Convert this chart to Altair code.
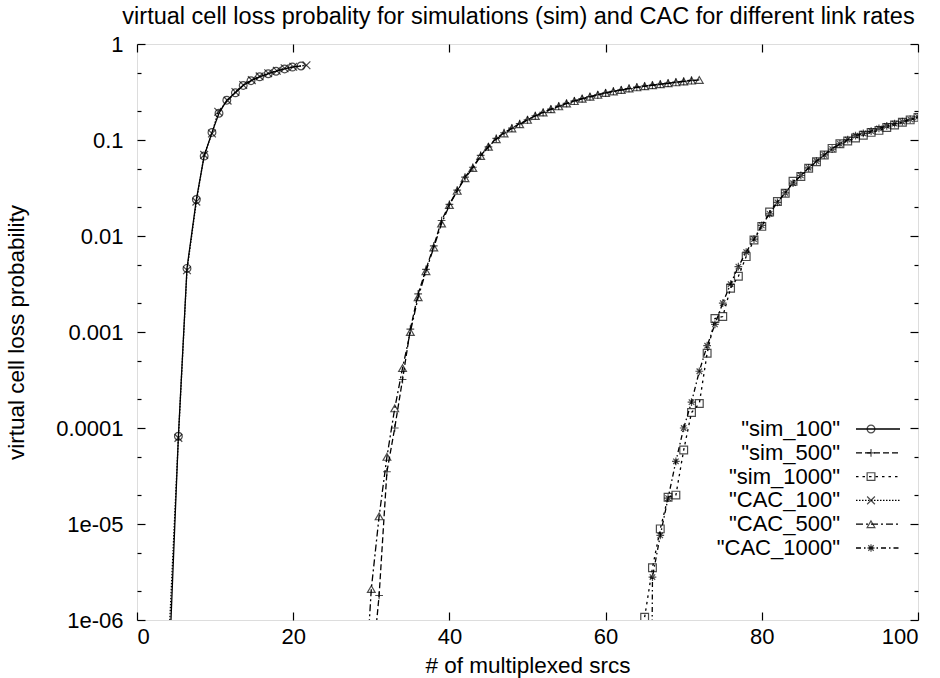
import altair as alt
import pandas as pd

FONT = "Liberation Sans"
TITLE = "virtual cell loss probality for simulations (sim) and CAC for different link rates"
X_TITLE = "# of multiplexed srcs"
Y_TITLE = "virtual cell loss probability"

series_labels = ['"sim_100"', '"sim_500"', '"sim_1000"', '"CAC_100"', '"CAC_500"', '"CAC_1000"']

x_ticks = [0, 20, 40, 60, 80, 100]
y_ticks = [1e-6, 1e-5, 1e-4, 1e-3, 1e-2, 1e-1, 1]
y_tick_labels = ["1e-06", "1e-05", "0.0001", "0.001", "0.01", "0.1", "1"]
y_minor = [2e-6, 5e-6, 2e-5, 5e-5, 2e-4, 5e-4, 2e-3, 5e-3, 2e-2, 5e-2, 0.2, 0.5]

# ---- data ----
sim_100_x = [4.2, 5.3, 6.4, 7.6, 8.6, 9.6, 10.5, 11.5, 12.6, 13.6, 14.6, 15.7, 16.8, 17.8, 18.9, 19.9, 21.0]
sim_100_y = [5e-7, 8.2e-5, 4.6e-3, 0.024, 0.068, 0.12, 0.19, 0.26, 0.31, 0.37, 0.415, 0.455, 0.49, 0.52, 0.55, 0.575, 0.59]

cac_100_x = [4.0, 5.3, 6.4, 7.6, 8.6, 9.6, 10.4, 11.6, 12.6, 13.6, 14.7, 15.7, 16.8, 17.9, 18.9, 20.0, 21.7]
cac_100_y = [4.5e-7, 7.9e-5, 4.4e-3, 0.0228, 0.070, 0.117, 0.197, 0.257, 0.316, 0.374, 0.42, 0.46, 0.495, 0.527, 0.558, 0.58, 0.60]

sim_500_x = list(range(30, 72))
sim_500_y = [2.5e-7, 1.8e-6, 3.5e-5, 1.0e-4, 3.2e-4, 1.07e-3, 2.5e-3, 4.5e-3, 7.9e-3, 0.0145,
             0.0214, 0.030, 0.041, 0.052, 0.069, 0.085, 0.104, 0.119, 0.133, 0.148,
             0.162, 0.179, 0.194, 0.210, 0.225, 0.241, 0.255, 0.270, 0.283, 0.296,
             0.310, 0.322, 0.333, 0.344, 0.355, 0.365, 0.373, 0.382, 0.391, 0.400,
             0.409, 0.417]

cac_500_x = list(range(29, 73))
cac_500_y = [1e-7, 2.1e-6, 1.2e-5, 5.0e-5, 1.6e-4, 4.2e-4, 1.0e-3, 2.3e-3, 4.3e-3, 7.6e-3,
             0.0135, 0.021, 0.0295, 0.040, 0.051, 0.068, 0.085, 0.102, 0.117, 0.132,
             0.146, 0.162, 0.178, 0.193, 0.209, 0.224, 0.240, 0.254, 0.269, 0.282,
             0.295, 0.309, 0.320, 0.331, 0.343, 0.353, 0.363, 0.372, 0.380, 0.389,
             0.398, 0.407, 0.415, 0.422]

sim_1000_x = list(range(65, 101))
sim_1000_y = [1.07e-6, 3.5e-6, 8.9e-6, 1.9e-5, 2.0e-5, 5.9e-5, 1.45e-4, 1.8e-4, 6.0e-4, 1.38e-3,
              1.45e-3, 2.85e-3, 3.8e-3, 6.1e-3, 9.1e-3, 0.0126, 0.0178, 0.0229, 0.0279, 0.0372,
              0.0417, 0.0507, 0.0594, 0.0698, 0.0818, 0.0912, 0.0977, 0.105, 0.112, 0.120,
              0.126, 0.135, 0.143, 0.153, 0.162, 0.172]

cac_1000_x = [65.8] + list(range(66, 101))
cac_1000_y = [1e-8, 2.8e-6, 7.6e-6, 1.86e-5, 4.5e-5, 1.0e-4, 1.86e-4, 3.9e-4, 7.2e-4, 1.2e-3,
              2.0e-3, 3.16e-3, 4.8e-3, 6.8e-3, 9.3e-3, 0.0129, 0.0170, 0.0224, 0.0282, 0.0355,
              0.0427, 0.0513, 0.0603, 0.0700, 0.0804, 0.0912, 0.101, 0.111, 0.117, 0.124,
              0.132, 0.140, 0.148, 0.155, 0.164, 0.174]

series_data = [
    (series_labels[0], sim_100_x, sim_100_y),
    (series_labels[1], sim_500_x, sim_500_y),
    (series_labels[2], sim_1000_x, sim_1000_y),
    (series_labels[3], cac_100_x, cac_100_y),
    (series_labels[4], cac_500_x, cac_500_y),
    (series_labels[5], cac_1000_x, cac_1000_y),
]
rows = []
for name, xs_, ys_ in series_data:
    for i, (xv, yv) in enumerate(zip(xs_, ys_)):
        rows.append({"series": name, "x": xv, "y": yv, "i": i})
df = pd.DataFrame(rows)
leg_df = pd.DataFrame({"series": series_labels})

# ---- styles ----
dash_scale = alt.Scale(domain=series_labels,
                       range=[[1, 0], [6, 3], [2.5, 4], [1.5, 1.5], [7, 3, 2, 3], [5, 3, 1.5, 3]])
shape_scale = alt.Scale(domain=series_labels,
                        range=["circle", "M-1,0H1M0,-1V1", "square", "M-1,-1L1,1M-1,1L1,-1",
                               "triangle-up",
                               "M-1,0H1M0,-1V1M-0.7,-0.7L0.7,0.7M-0.7,0.7L0.7,-0.7"])

xs = alt.Scale(domain=[0, 100], nice=False, zero=False)
ys = alt.Scale(type="log", domain=[1e-6, 1], nice=False)

label_expr = "[" + ",".join("'%s'" % s for s in y_tick_labels) + "][round(log(datum.value)/LN10)+6]"

axis_common = dict(domain=False, grid=False, tickColor="black", tickWidth=1.2,
                   labelFont=FONT, labelFontSize=22, labelColor="black",
                   titleFont=FONT, titleFontSize=22.5, titleFontWeight="normal", titleColor="black")

x_bottom = alt.Axis(orient="bottom", values=x_ticks, offset=-8, tickSize=8, labelPadding=6,
                    format="d", titleY=53, titleBaseline="middle", **axis_common)
y_left = alt.Axis(orient="left", values=y_ticks, offset=-8, tickSize=8, labelPadding=14,
                  labelExpr=label_expr, titleX=-129, titleBaseline="middle", **axis_common)
y_left_minor = alt.Axis(orient="left", values=y_minor, offset=-4, tickSize=4, labels=False,
                        title=None, **axis_common)
x_top = alt.Axis(orient="top", values=x_ticks, offset=-8, tickSize=8, labels=False, title=None,
                 **axis_common)
y_right = alt.Axis(orient="right", values=y_ticks, offset=-8, tickSize=8, labels=False, title=None,
                   **axis_common)
y_right_minor = alt.Axis(orient="right", values=y_minor, offset=-4, tickSize=4, labels=False,
                         title=None, **axis_common)

base = alt.Chart(df)

lines = base.mark_line(clip=True, color="black", strokeWidth=1.3).encode(
    x=alt.X("x:Q", scale=xs, axis=x_bottom, title=X_TITLE),
    y=alt.Y("y:Q", scale=ys, axis=y_left, title=Y_TITLE),
    strokeDash=alt.StrokeDash("series:N", scale=dash_scale, legend=None),
    detail="series:N",
    order="i:Q",
)

points = base.mark_point(clip=True, color="black", filled=False, size=60, strokeWidth=1.2).encode(
    x=alt.X("x:Q", scale=xs, axis=None),
    y=alt.Y("y:Q", scale=ys, axis=None),
    shape=alt.Shape("series:N", scale=shape_scale, legend=None),
)


def ghost(xaxis, yaxis):
    return base.mark_point(opacity=0, clip=True).encode(
        x=alt.X("x:Q", scale=xs, axis=xaxis),
        y=alt.Y("y:Q", scale=ys, axis=yaxis),
    )


g1 = ghost(x_top, y_left_minor)
g2 = ghost(None, y_right)
g3 = ghost(None, y_right_minor)

leg_y = alt.Y("series:N", scale=alt.Scale(type="point", domain=series_labels, range=[385, 504], padding=0),
              axis=None)
leg_text = alt.Chart(leg_df).mark_text(align="right", baseline="middle", font=FONT, fontSize=22,
                                       color="black").encode(
    x=alt.value(703), y=leg_y, text="series:N")
leg_rule = alt.Chart(leg_df).mark_rule(color="black", strokeWidth=1.3).encode(
    x=alt.value(719), x2=alt.value(763), y=leg_y,
    strokeDash=alt.StrokeDash("series:N", scale=dash_scale, legend=None))
leg_pts = alt.Chart(leg_df).mark_point(color="black", filled=False, size=60, strokeWidth=1.2).encode(
    x=alt.value(734), y=leg_y,
    shape=alt.Shape("series:N", scale=shape_scale, legend=None))

chart = alt.layer(lines, points, g1, g2, g3, leg_rule, leg_pts, leg_text).resolve_scale(
    x="independent", y="independent", strokeDash="independent", shape="independent"
).properties(
    width=781, height=576,
    autosize=alt.AutoSizeParams(type="none"),
    padding={"left": 137, "top": 44, "right": 22, "bottom": 58},
    title=alt.TitleParams(TITLE, font=FONT, fontSize=23.5, fontWeight="normal", color="black",
                          anchor="middle", frame="group", dx=-9, dy=18, offset=4,
                          baseline="alphabetic"),
).configure_view(stroke="black", strokeWidth=1.5).configure(background="white")

chart.save("out.html", embed_options={"renderer": "svg", "actions": False})
